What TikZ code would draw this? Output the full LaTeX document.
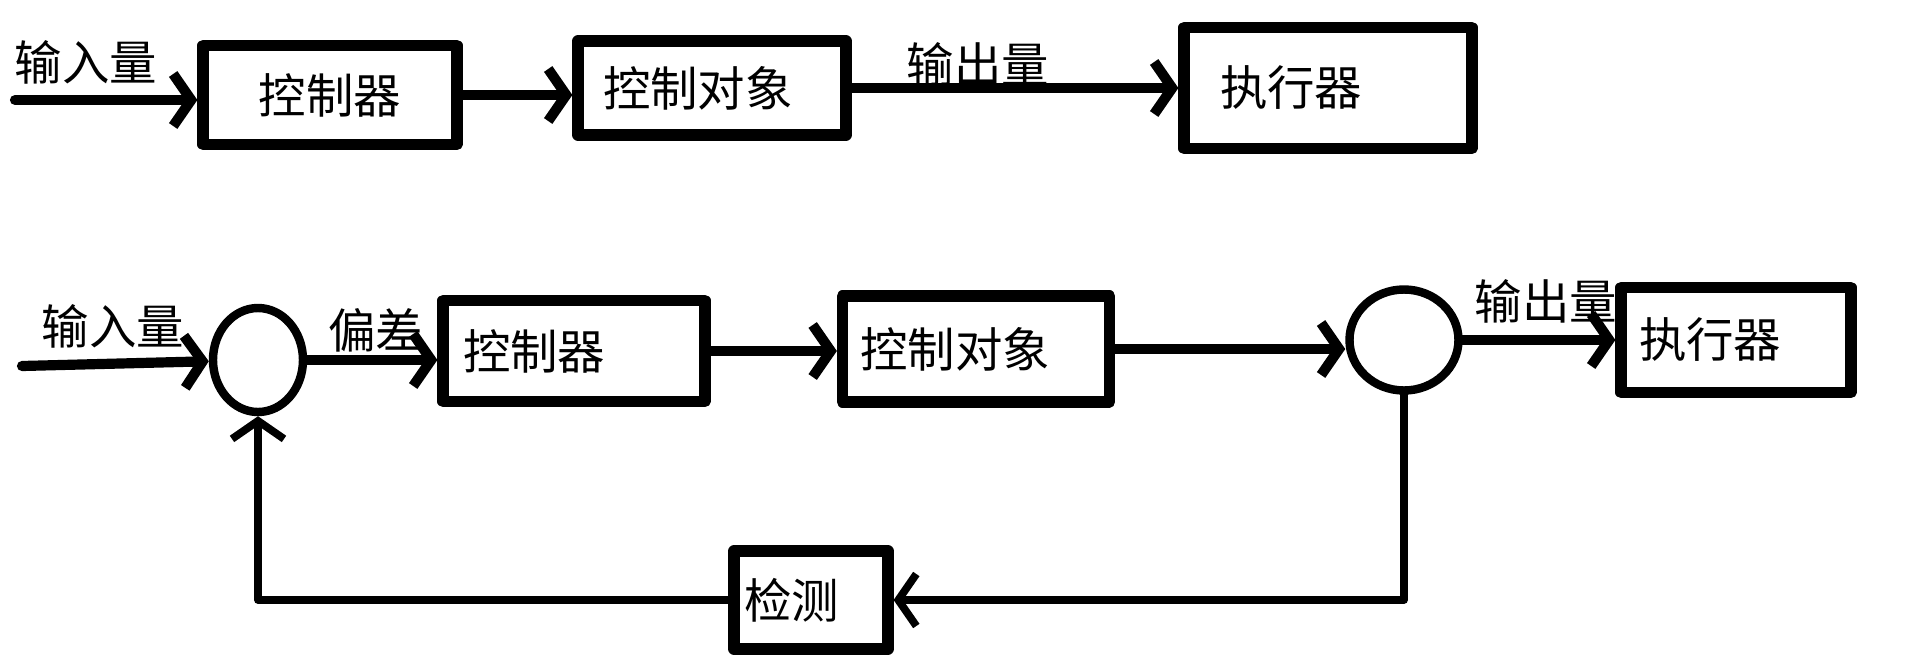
\documentclass[tikz,border=0pt]{standalone}
\usepackage{fontspec}
\usepackage{tikz}
\usetikzlibrary{arrows.meta,shapes.geometric}
\newfontfamily\cjk{Noto Sans CJK SC}

\begin{document}
\begin{tikzpicture}[
  x=0.1mm, y=-0.1mm,
  >={Straight Barb[length=1.8mm,width=5.2mm]},
  line cap=round,
  line join=round,
  every node/.style={font=\cjk\fontsize{13.5}{16}\selectfont},
  box/.style={draw, line width=3.2pt, align=left, inner ysep=0pt},
  sum/.style={draw, ellipse, line width=2.4pt, inner sep=0pt},
  flow/.style={->, line width=2.9pt}
]
  \useasboundingbox (0,0) rectangle (1928,666);

  % Open loop
  \coordinate (in1) at (15,100);
  \node[box, align=center, text width=21.8mm, inner xsep=1.8mm, minimum height=9.9mm] (ctrlA) at (330,95) {控制器};
  \node[box, text width=21.8mm, inner xsep=2.5mm, minimum height=9.4mm] (objA) at (712,88) {控制对象};
  \node[box, text width=21.6mm, inner xsep=3.6mm, minimum height=12.1mm] (actA) at (1328,88) {执行器};
  \node (inA) at (86,62) {输入量};
  \node (outA) at (978,64) {输出量};
  \draw[flow] (in1) -- (in1 -| ctrlA.west);
  \draw[flow] (ctrlA.east) -- (ctrlA.east -| objA.west);
  \draw[flow] (objA.east) -- (objA.east -| actA.west);

  % Closed loop
  \coordinate (in2) at (22,366);
  \node[sum, minimum width=9mm, minimum height=10.4mm] (sum1) at (258,360) {};
  \node[box, text width=22.2mm, inner xsep=2mm, minimum height=10.1mm] (ctrlB) at (574,351) {控制器};
  \node[box, text width=23.1mm, inner xsep=1.8mm, minimum height=10.6mm] (objB) at (976,349) {控制对象};
  \node[sum, minimum width=10.9mm, minimum height=10.1mm] (sum2) at (1404,340) {};
  \node[box, text width=19.4mm, inner xsep=1.8mm, minimum height=10.5mm] (actB) at (1736,340) {执行器};
  \node[box, text width=13.4mm, inner xsep=1mm, minimum height=9.8mm] (det) at (811,600) {检测};
  \node (inB) at (113,326) {输入量};
  \node (errB) at (376,330) {偏差};
  \node (outB) at (1546,301) {输出量};
  \draw[flow] (in2) -- (sum1);
  \draw[flow] (sum1.east) -- (sum1.east -| ctrlB.west);
  \draw[flow] (ctrlB.east) -- (ctrlB.east -| objB.west);
  \draw[flow] (objB.east) -- (objB.east -| sum2.west);
  \draw[flow] (sum2.east) -- (sum2.east -| actB.west);
  \draw[flow, line width=2.2pt] (sum2.south) |- (det.east);
  \draw[flow, line width=2.2pt] (det.west) -| (sum1.south);
\end{tikzpicture}
\end{document}
